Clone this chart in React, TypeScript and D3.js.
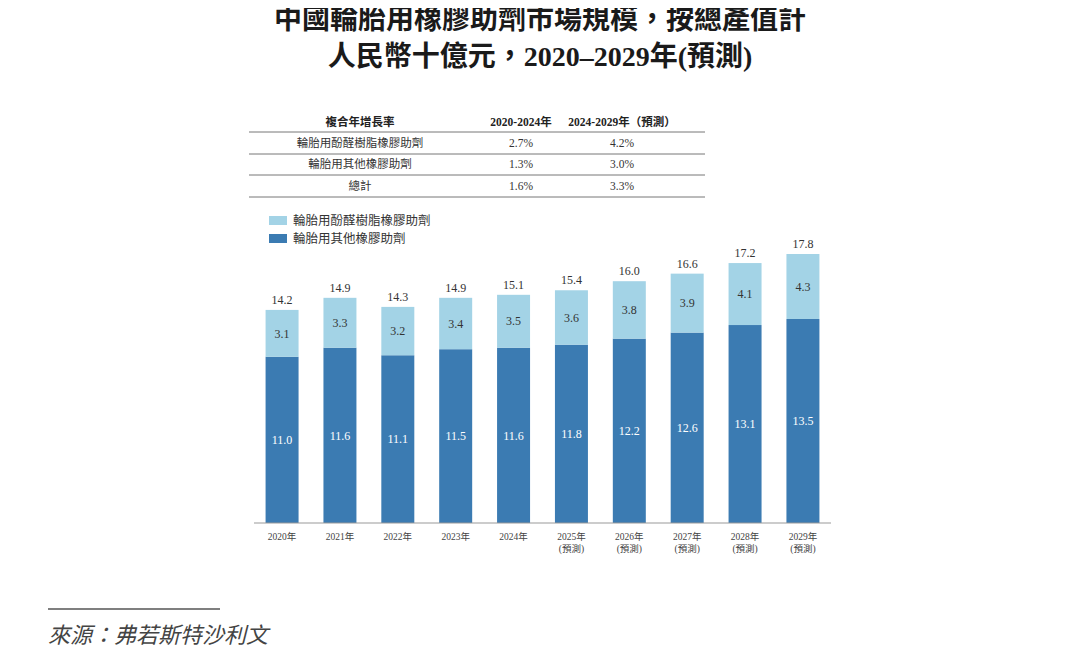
import React from "react";
import * as d3 from "d3";

const years = ["2020年", "2021年", "2022年", "2023年", "2024年", "2025年", "2026年", "2027年", "2028年", "2029年"];
const forecast = [false, false, false, false, false, true, true, true, true, true];
const other = [11.0, 11.6, 11.1, 11.5, 11.6, 11.8, 12.2, 12.6, 13.1, 13.5];
const phenolic = [3.1, 3.3, 3.2, 3.4, 3.5, 3.6, 3.8, 3.9, 4.1, 4.3];
const totals = [14.2, 14.9, 14.3, 14.9, 15.1, 15.4, 16.0, 16.6, 17.2, 17.8];

const seriesNames = ["輪胎用酚醛樹脂橡膠助劑", "輪胎用其他橡膠助劑"];
const tableHeader = ["複合年增長率", "2020-2024年", "2024-2029年（預測）"];
const tableRows = [
  ["輪胎用酚醛樹脂橡膠助劑", "2.7%", "4.2%"],
  ["輪胎用其他橡膠助劑", "1.3%", "3.0%"],
  ["總計", "1.6%", "3.3%"],
];

const LIGHT = "#a3d3e6";
const DARK = "#3b7bb2";
const FONT = "'Liberation Serif', 'Noto Sans CJK TC', serif";

export default function App() {
  const W = 1080, H = 658;
  const baseY = 523;
  const x = d3.scaleBand<string>().domain(years).range([254, 831]).paddingInner(0.43).paddingOuter(0.2);
  const y = d3.scaleLinear().domain([0, 17.8]).range([baseY, 254]);
  const bw = x.bandwidth();

  const colX = [360, 521, 622];
  const rowY = [122, 143, 164, 186];
  const lineY = [132, 154, 175, 197];

  return (
    <div style={{ margin: -8 }}>
      <svg width={W} height={H} style={{ display: "block", background: "#fff" }} fontFamily={FONT}>
        <text x={540} y={29} textAnchor="middle" fontSize={28} fontWeight="bold" fill="#1a1a1a">
          中國輪胎用橡膠助劑市場規模，按總產值計
        </text>
        <text x={540} y={66} textAnchor="middle" fontSize={28} fontWeight="bold" fill="#1a1a1a">
          人民幣十億元，2020–2029年(預測)
        </text>

        {/* table */}
        {tableHeader.map((h, i) => (
          <text key={h} x={colX[i]} y={rowY[0]} dy="0.35em" textAnchor="middle" fontSize={11.5} fontWeight="bold" fill="#222">
            {h}
          </text>
        ))}
        {tableRows.map((r, ri) =>
          r.map((c, ci) => (
            <text key={ri + "-" + ci} x={colX[ci]} y={rowY[ri + 1]} dy="0.35em" textAnchor="middle" fontSize={11.5} fill="#333">
              {c}
            </text>
          ))
        )}
        {lineY.map((ly) => (
          <line key={ly} x1={249} x2={705} y1={ly} y2={ly} stroke="#777" strokeWidth={1} />
        ))}

        {/* legend */}
        {seriesNames.map((n, i) => (
          <g key={n} transform={`translate(269,${216 + i * 18})`}>
            <rect width={18} height={9} fill={i === 0 ? LIGHT : DARK} />
            <text x={24} y={4.5} dy="0.35em" fontSize={12.5} fill="#333">{n}</text>
          </g>
        ))}

        {/* bars */}
        {years.map((yr, i) => {
          const bx = x(yr)!;
          const cx = bx + bw / 2;
          const yDarkTop = y(other[i]);
          const yTop = y(other[i] + phenolic[i]);
          return (
            <g key={yr}>
              <rect x={bx} y={yDarkTop} width={bw} height={baseY - yDarkTop} fill={DARK} />
              <rect x={bx} y={yTop} width={bw} height={yDarkTop - yTop} fill={LIGHT} />
              <text x={cx} y={(yDarkTop + baseY) / 2} dy="0.35em" textAnchor="middle" fontSize={12} fill="#fff">
                {other[i].toFixed(1)}
              </text>
              <text x={cx} y={(yTop + yDarkTop) / 2} dy="0.35em" textAnchor="middle" fontSize={12} fill="#333">
                {phenolic[i].toFixed(1)}
              </text>
              <text x={cx} y={yTop - 6} textAnchor="middle" fontSize={12} fill="#333">
                {totals[i].toFixed(1)}
              </text>
              <text x={cx} y={540} textAnchor="middle" fontSize={9.5} fill="#444">{yr}</text>
              {forecast[i] && (
                <text x={cx} y={552} textAnchor="middle" fontSize={9.5} fill="#444">(預測)</text>
              )}
            </g>
          );
        })}
        <line x1={254} x2={831} y1={baseY} y2={baseY} stroke="#999" strokeWidth={1} />

        {/* source */}
        <line x1={48} x2={220} y1={609} y2={609} stroke="#555" strokeWidth={1.5} />
        <text x={48} y={643} fontSize={22} fontStyle="italic" fill="#444">來源：弗若斯特沙利文</text>
      </svg>
    </div>
  );
}
